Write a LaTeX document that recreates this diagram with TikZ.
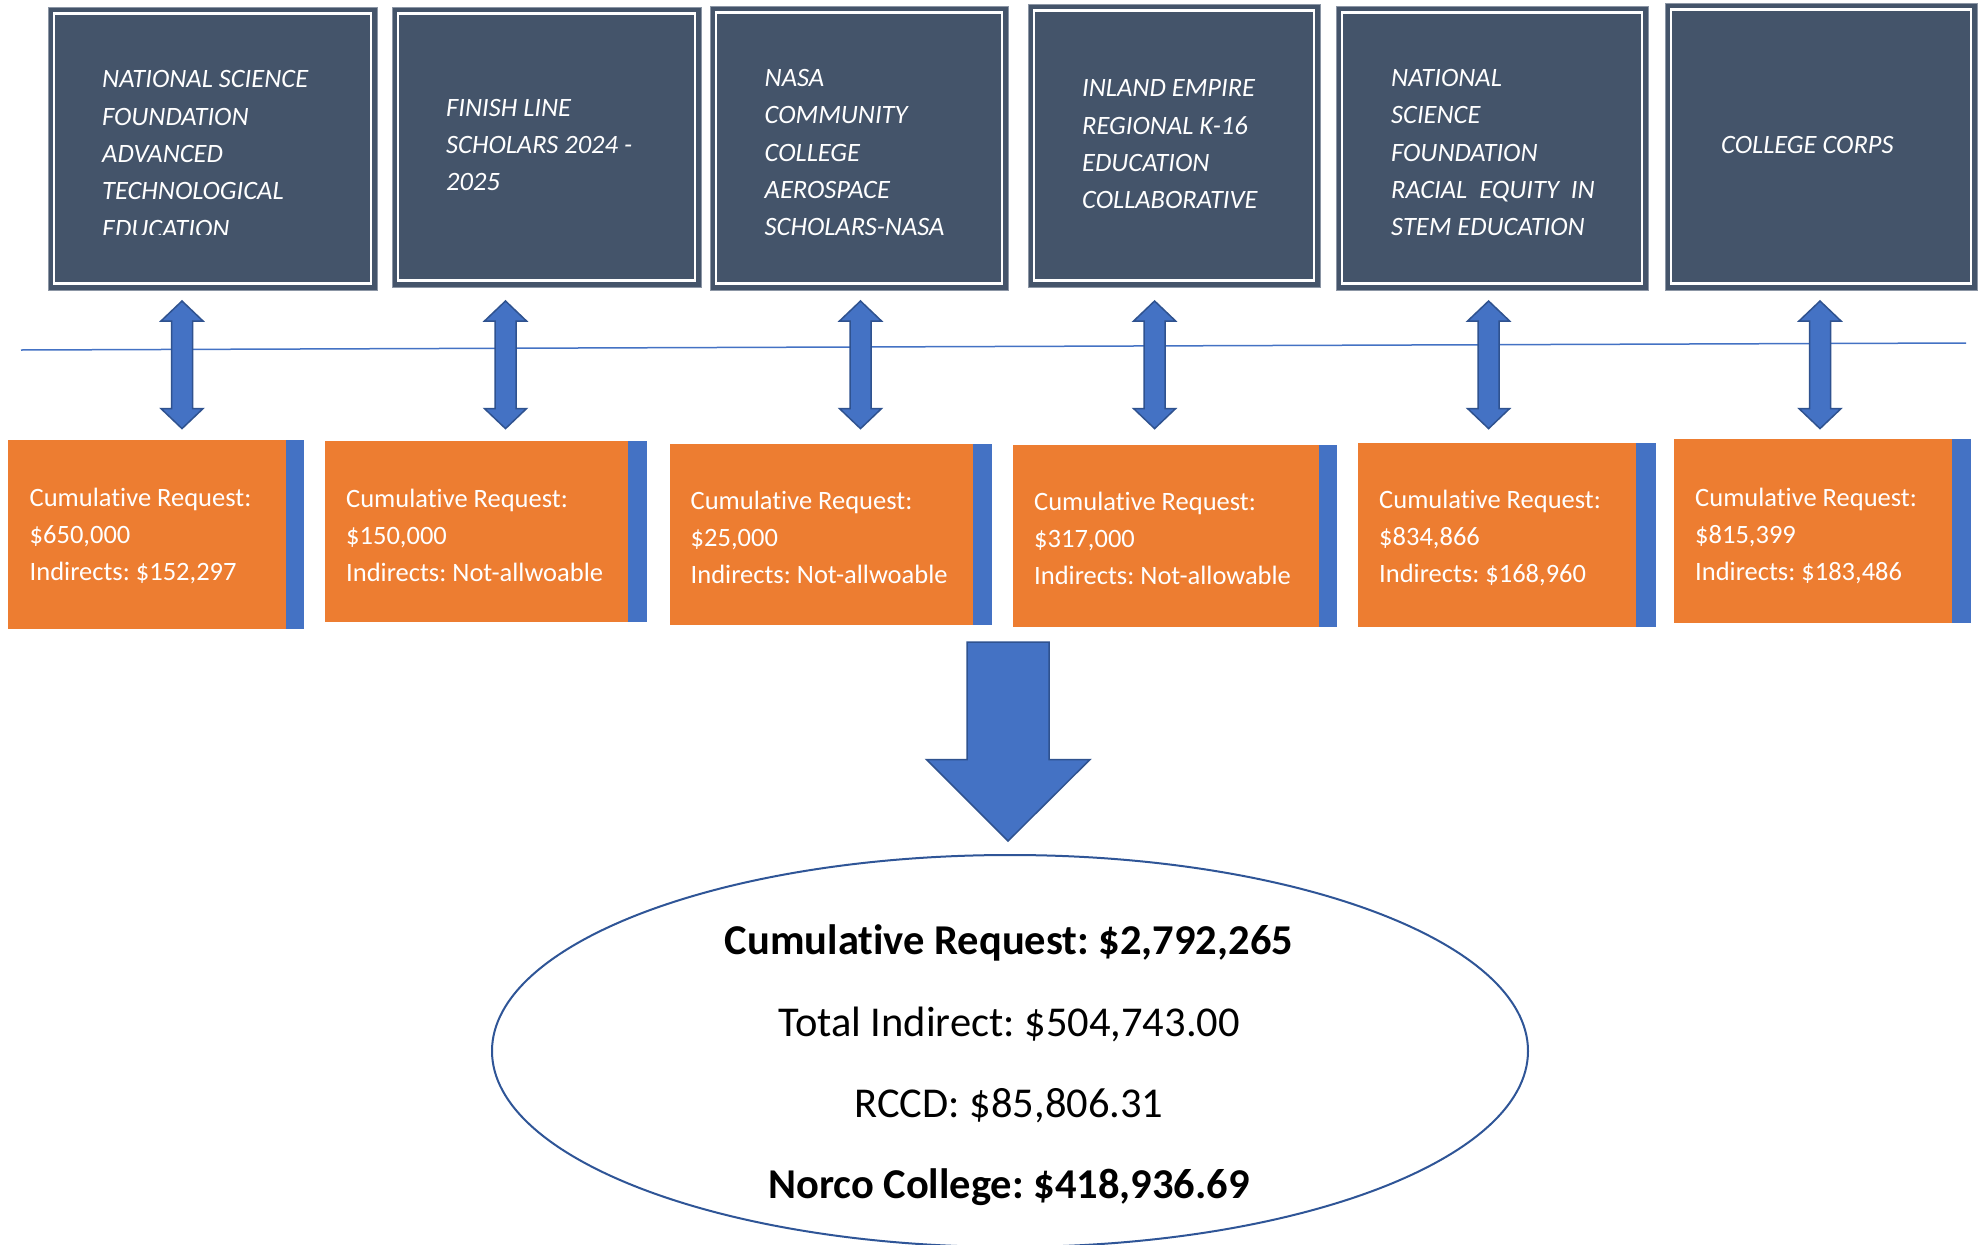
\documentclass[tikz,border=0pt]{standalone}
\usepackage{fontspec}
\setmainfont{Carlito}[RawFeature={-liga;-clig;-calt;-dlig}]
\usetikzlibrary{shapes.geometric}
\frenchspacing
\definecolor{slate}{HTML}{44546A}
\definecolor{slateedge}{HTML}{8C96A5}
\definecolor{orng}{HTML}{ED7D31}
\definecolor{ablue}{HTML}{4472C4}
\definecolor{adark}{HTML}{2F528F}
\definecolor{ellc}{HTML}{2F5597}
\tikzset{
 grantbox/.style={fill=slate, draw=slateedge, line width=1pt, inner sep=0pt, outer sep=0pt, anchor=north west},
 grantinner/.style={draw=white, line width=2.3pt},
 grantline/.style={anchor=base west, inner sep=0pt, text=white, font=\fontsize{26.5}{32}\selectfont\itshape},
 amtbox/.style={fill=orng, draw=none},
 amtstrip/.style={fill=ablue, draw=none},
 amtline/.style={anchor=base west, inner sep=0pt, text=white, font=\fontsize{26.5}{32}\selectfont},
 blockarrow/.style={fill=ablue, draw=adark, line width=1.5pt, line join=miter},
 sumline/.style={anchor=base, inner sep=0pt, text=black, font=\fontsize{42.5}{50}\selectfont},
 timeline/.style={draw=ablue, line width=1.5pt},
 sumshape/.style={draw=ellc, line width=2pt, ellipse, inner sep=0pt},
}
\newcommand{\dblarrow}[1]{%
 \draw[blockarrow] (#1,301) -- (#1+21,321) -- (#1+10.5,321) -- (#1+10.5,408.6) -- (#1+21,408.6)
   -- (#1,428.6) -- (#1-21,408.6) -- (#1-10.5,408.6) -- (#1-10.5,321) -- (#1-21,321) -- cycle;}
\begin{document}
\begin{tikzpicture}[x=1pt,y=-1pt]
\clip (0,0) rectangle (1982,1245);
\useasboundingbox (0,0) rectangle (1982,1245);
\fill[white] (0,0) rectangle (1982,1245);

% timeline
\coordinate (tl0) at (21,350);
\coordinate (tl1) at (1966,343);
\draw[timeline] (tl0) -- (tl1);

% grant boxes
\node[grantbox, minimum width=329, minimum height=283] (g1) at (48,7) {};
\node[grantbox, minimum width=309, minimum height=280] (g2) at (392,7) {};
\node[grantbox, minimum width=298, minimum height=284] (g3) at (710,6) {};
\node[grantbox, minimum width=292, minimum height=283] (g4) at (1028,4) {};
\node[grantbox, minimum width=312, minimum height=284] (g5) at (1336,6) {};
\node[grantbox, minimum width=312, minimum height=287] (g6) at (1665,3) {};
\foreach \g in {g1,g2,g3,g4,g5,g6}
  \draw[grantinner] ([shift={(6,6.5)}]\g.north west) rectangle ([shift={(-6,-6.5)}]\g.south east);

\begin{scope}
\clip (48,7) rectangle (377,234);
\foreach \t [count=\i] in {NATIONAL SCIENCE, FOUNDATION, ADVANCED, TECHNOLOGICAL, EDUCATION}
  \node[grantline] (g1t\i) at (102,{87.8+37.3*(\i-1)}) {\t};
\end{scope}
\foreach \t [count=\i] in {FINISH LINE, SCHOLARS 2024 -, 2025}
  \node[grantline] (g2t\i) at (446,{116.3+37.3*(\i-1)}) {\t};
\foreach \t [count=\i] in {NASA, COMMUNITY, COLLEGE, AEROSPACE, SCHOLARS-NASA}
  \node[grantline] (g3t\i) at (764.5,{86.5+37.3*(\i-1)}) {\t};
\foreach \t [count=\i] in {INLAND EMPIRE, REGIONAL K-16, EDUCATION, COLLABORATIVE}
  \node[grantline] (g4t\i) at (1082,{96.7+37.3*(\i-1)}) {\t};
\foreach \t [count=\i] in {NATIONAL, SCIENCE, FOUNDATION, {RACIAL\ \ EQUITY\ \ IN}, STEM EDUCATION}
  \node[grantline] (g5t\i) at (1391,{86.5+37.3*(\i-1)}) {\t};
\node[grantline] (g6t1) at (1721,153) {COLLEGE CORPS};

% double arrows
\foreach \c in {182,505.5,860.5,1154.6,1488.6,1820} { \dblarrow{\c} }

% amount boxes
\path[amtbox] (8,440) rectangle (286,629);      \path[amtstrip] (286,440) rectangle (304,629);
\path[amtbox] (325,441) rectangle (628,622);    \path[amtstrip] (628,441) rectangle (647,622);
\path[amtbox] (670,444) rectangle (973,624.5);  \path[amtstrip] (973,444) rectangle (992,624.5);
\path[amtbox] (1013,445) rectangle (1319,626.5);\path[amtstrip] (1319,445) rectangle (1337,626.5);
\path[amtbox] (1358,443) rectangle (1636,626.5);\path[amtstrip] (1636,443) rectangle (1656,626.5);
\path[amtbox] (1674,439) rectangle (1952,623);  \path[amtstrip] (1952,439) rectangle (1971,623);

\foreach \t [count=\i] in {Cumulative Request:, {\$650,000}, {Indirects: \$152,297}}
  \node[amtline] (a1t\i) at (29.5,{506+37*(\i-1)}) {\t};
\foreach \t [count=\i] in {Cumulative Request:, {\$150,000}, {Indirects: Not-allwoable}}
  \node[amtline] (a2t\i) at (346,{507+37*(\i-1)}) {\t};
\foreach \t [count=\i] in {Cumulative Request:, {\$25,000}, {Indirects: Not-allwoable}}
  \node[amtline] (a3t\i) at (690.5,{509.5+37*(\i-1)}) {\t};
\foreach \t [count=\i] in {Cumulative Request:, {\$317,000}, {Indirects: Not-allowable}}
  \node[amtline] (a4t\i) at (1034,{510+37*(\i-1)}) {\t};
\foreach \t [count=\i] in {Cumulative Request:, {\$834,866}, {Indirects: \$168,960}}
  \node[amtline] (a5t\i) at (1379,{508+37*(\i-1)}) {\t};
\foreach \t [count=\i] in {Cumulative Request:, {\$815,399}, {Indirects: \$183,486}}
  \node[amtline] (a6t\i) at (1695,{506+37*(\i-1)}) {\t};

% big down arrow
\draw[blockarrow] (967,642) -- (1049,642) -- (1049,759.5) -- (1090,759.5) -- (1008,841)
  -- (926.5,759.5) -- (967,759.5) -- cycle;

% summary ellipse
\node[sumshape, minimum width=1036, minimum height=392] (sum) at (1010,1051) {};
\node[sumline] (s1) at (1009,954) {\bfseries Cumulative Request: \$2,792,265};
\node[sumline] (s2) at (1009,1036.5) {Total Indirect: \$504,743.00};
\node[sumline] (s3) at (1009,1117) {RCCD: \$85,806.31};
\node[sumline] (s4) at (1009,1198) {\bfseries Norco College: \$418,936.69};
\end{tikzpicture}
\end{document}
